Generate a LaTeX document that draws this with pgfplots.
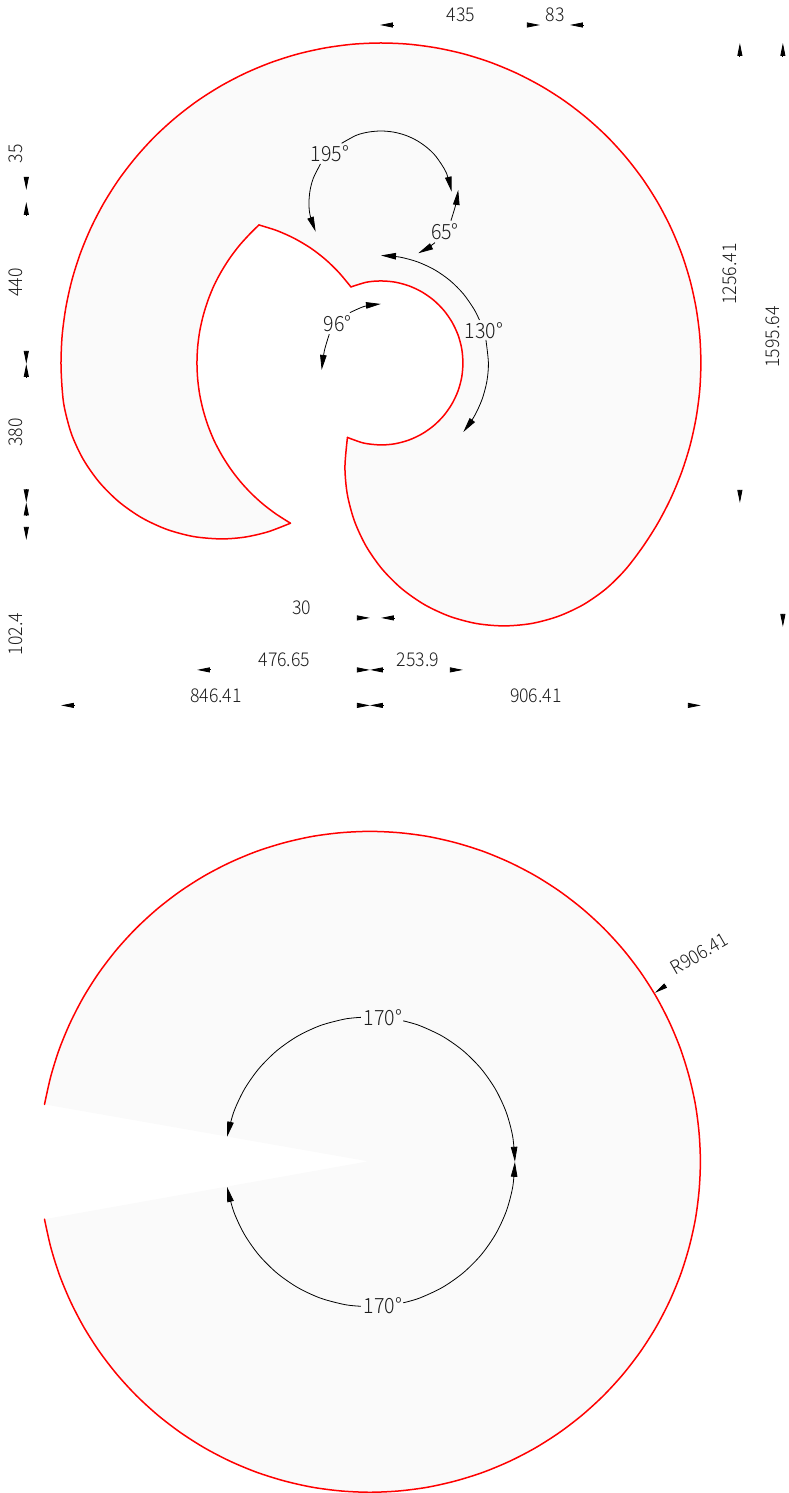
\documentclass[border=0pt]{standalone}
\usepackage{fontspec}
\setmainfont[FakeStretch=0.93]{Noto Sans CJK JP Light}
\usepackage{pgfplots}
\usepackage{pgfplotstable}
\pgfplotsset{compat=1.18}
\usetikzlibrary{arrows.meta}
\definecolor{part}{HTML}{FAFAFA}
\definecolor{ink}{HTML}{1C1C1C}
\tikzset{
  dim/.style={black, line width=0.8pt, -{Triangle[length=13pt,width=5pt]}},
  ang/.style={black, line width=0.8pt, smooth, -{Triangle[length=15pt,width=6.5pt]}},
  edge/.style={red, line width=1.5pt, smooth, line cap=round},
  dimlabel/.style={text=ink, font=\fontsize{19}{22}\selectfont, inner sep=0pt},
  anglabel/.style={text=ink, font=\fontsize{21}{24}\selectfont, inner sep=0pt},
}
% lower part: outer arc, last row is the notch vertex
\pgfplotstableread{
x y
44.5 1104.6
50.8 1076.5
59.4 1049
70.5 1022.3
83.8 996.7
99.3 972.4
116.8 949.6
136.3 928.3
157.6 908.8
180.4 891.3
204.7 875.8
230.3 862.5
257 851.4
284.5 842.8
312.6 836.5
341.2 832.8
370 831.5
398.8 832.8
427.4 836.5
455.5 842.8
483 851.4
509.7 862.5
535.3 875.8
559.6 891.3
582.4 908.8
603.7 928.3
623.2 949.6
640.7 972.4
656.2 996.7
669.5 1022.3
680.6 1049
689.2 1076.5
695.5 1104.6
699.2 1133.2
700.5 1162
699.2 1190.8
695.5 1219.4
689.2 1247.5
680.6 1275
669.5 1301.7
656.2 1327.3
640.7 1351.6
623.2 1374.4
603.7 1395.7
582.4 1415.2
559.6 1432.7
535.3 1448.2
509.7 1461.5
483 1472.6
455.5 1481.2
427.4 1487.5
398.8 1491.2
370 1492.5
341.2 1491.2
312.6 1487.5
284.5 1481.2
257 1472.6
230.3 1461.5
204.7 1448.2
180.4 1432.7
157.6 1415.2
136.3 1395.7
116.8 1374.4
99.3 1351.6
83.8 1327.3
70.5 1301.7
59.4 1275
50.8 1247.5
44.5 1219.4
368 1161.5
}\lowerpart
\begin{document}
\begin{tikzpicture}
\begin{axis}[
  scale only axis, width=789pt, height=1493pt,
  xmin=0, xmax=789, ymin=0, ymax=1493, y dir=reverse,
  hide axis, clip=false, no markers,
]
% keeps the page as large as the axis
\addplot[draw=none] coordinates {(0,0) (789,1493)};
% upper part: fill
\addplot[fill=part, draw=none] coordinates {
(62.1,388.1) (61,363) (62.2,335.1) (65.9,307.4) (71.9,280.2) (80.3,253.6) (91,227.8) (103.9,203)
(118.9,179.4) (135.9,157.3) (154.7,136.7) (175.3,117.9) (197.4,100.9) (221,85.9) (245.8,73)
(271.6,62.3) (298.2,53.9) (325.4,47.9) (353.1,44.2) (381,43) (408.9,44.2) (436.6,47.9) (463.8,53.9)
(490.4,62.3) (516.2,73) (541,85.9) (564.6,100.9) (586.7,117.9) (607.3,136.7) (626.1,157.3)
(643.1,179.4) (658.1,203) (671,227.8) (681.7,253.6) (690.1,280.2) (696.1,307.4) (699.8,335.1)
(701,363) (699.8,390.9) (696.1,418.6) (690.1,445.8) (681.7,472.4) (671,498.2) (658.1,523)
(643.1,546.6) (625.5,569.7)
(606.2,588.8) (583.5,604.7) (558.4,616.4) (531.6,623.6) (504,626) (476.4,623.6) (449.6,616.4)
(424.5,604.7) (401.8,588.8) (382.2,569.2) (366.3,546.5) (354.6,521.4) (347.4,494.6) (345,467)
(347.5,437.5)
(364,443.2) (381,445) (395.2,443.8) (409,440.1) (422,434) (433.7,425.8) (443.8,415.7)
(452,404) (458.1,391) (461.8,377.2) (463,363) (461.8,348.8) (458.1,335) (452,322) (443.8,310.3)
(433.7,300.2) (422,292) (409,285.9) (395.2,282.2) (381,281) (366.8,282.2) (351,287)
(338.8,272.4) (325.4,259.4) (310.4,247.9) (294.1,238.3) (277.1,230.7) (259,225)
(250.9,232.9) (240.1,244.7) (230.3,257.5) (221.7,271) (214.2,285.2) (208.1,300.1) (203.3,315.4)
(199.8,331) (197.7,347) (197,363) (197.7,379) (199.8,395) (203.3,410.6) (208.1,425.9) (214.2,440.8)
(221.7,455) (230.3,468.5) (240.1,481.3) (250.9,493.1) (262.7,503.9) (275.5,513.7) (290.5,523.3)
(268,531.9) (244.8,537.2) (221,539) (193.4,536.6) (166.6,529.4) (141.5,517.7) (118.8,501.8)
(99.2,482.2) (83.3,459.5) (71.6,434.4) (64.4,407.6) (62.1,388.1)
};
% upper part: edges, one smooth run per tangent chain
\addplot[edge] coordinates {
(290.5,523.3) (268,531.9) (244.8,537.2) (221,539) (193.4,536.6) (166.6,529.4) (141.5,517.7) (118.8,501.8)
(99.2,482.2) (83.3,459.5) (71.6,434.4) (64.4,407.6) (62.1,388.1) (61,363) (62.2,335.1) (65.9,307.4)
(71.9,280.2) (80.3,253.6) (91,227.8) (103.9,203)
(118.9,179.4) (135.9,157.3) (154.7,136.7) (175.3,117.9) (197.4,100.9) (221,85.9) (245.8,73)
(271.6,62.3) (298.2,53.9) (325.4,47.9) (353.1,44.2) (381,43) (408.9,44.2) (436.6,47.9) (463.8,53.9)
(490.4,62.3) (516.2,73) (541,85.9) (564.6,100.9) (586.7,117.9) (607.3,136.7) (626.1,157.3)
(643.1,179.4) (658.1,203) (671,227.8) (681.7,253.6) (690.1,280.2) (696.1,307.4) (699.8,335.1)
(701,363) (699.8,390.9) (696.1,418.6) (690.1,445.8) (681.7,472.4) (671,498.2) (658.1,523)
(643.1,546.6) (625.5,569.7)
(606.2,588.8) (583.5,604.7) (558.4,616.4) (531.6,623.6) (504,626) (476.4,623.6) (449.6,616.4)
(424.5,604.7) (401.8,588.8) (382.2,569.2) (366.3,546.5) (354.6,521.4) (347.4,494.6) (345,467)
(347.5,437.5)
};
\addplot[edge] coordinates {
(347.5,437.5) (364,443.2) (381,445) (395.2,443.8) (409,440.1) (422,434) (433.7,425.8) (443.8,415.7)
(452,404) (458.1,391) (461.8,377.2) (463,363) (461.8,348.8) (458.1,335) (452,322) (443.8,310.3)
(433.7,300.2) (422,292) (409,285.9) (395.2,282.2) (381,281) (366.8,282.2) (351,287)
};
\addplot[edge] coordinates {(351,287) (338.8,272.4) (325.4,259.4) (310.4,247.9) (294.1,238.3) (277.1,230.7) (259,225)};
\addplot[edge] coordinates {
(259,225) (250.9,232.9) (240.1,244.7) (230.3,257.5) (221.7,271) (214.2,285.2) (208.1,300.1) (203.3,315.4)
(199.8,331) (197.7,347) (197,363) (197.7,379) (199.8,395) (203.3,410.6) (208.1,425.9) (214.2,440.8)
(221.7,455) (230.3,468.5) (240.1,481.3) (250.9,493.1) (262.7,503.9) (275.5,513.7) (290.5,523.3)
};
% lower part
\addplot[fill=part, draw=none] table[x=x,y=y] {\lowerpart};
\addplot[edge, skip coords between index={69}{70}] table[x=x,y=y] {\lowerpart};
% angle arcs, upper part
\addplot[ang] coordinates {(341.7,143.3) (356.4,135.3) (368.5,132.1) (381,131) (393.5,132.1) (405.6,135.3) (417,140.6) (427.3,147.8) (436.2,156.7) (446.3,172.6) (451.7,191.7)};
\addplot[ang] coordinates {(320.5,164) (313.3,178.4) (310.1,190.5) (309,203) (310.1,215) (315.7,231.7)};
\addplot[ang] coordinates {(451,220.7) (456,204) (458.3,190)};
\addplot[ang] coordinates {(435,242.7) (427.5,248.2) (418.3,253.3)};
\addplot[ang] coordinates {(479.5,320) (474.1,309.2) (463.4,293.9) (450.1,280.6) (434.8,269.9) (417.8,262) (399.7,257.1) (381,255.5)};
\addplot[ang] coordinates {(486,340) (488.5,363) (486.9,381.7) (482,399.8) (474.1,416.8) (463.4,432.1)};
\addplot[ang] coordinates {(350,312.7) (364.5,306.4) (381,304)};
\addplot[ang] coordinates {(329.3,334.3) (324.4,351) (321.7,370)};
% angle arcs, lower part
\addplot[ang] coordinates {(361,1017.5) (344.8,1019.2) (320.4,1025.7) (297.5,1036.4) (276.8,1050.9) (258.9,1068.8) (244.4,1089.5) (233.7,1112.4) (227.2,1136.8)};
\addplot[ang] coordinates {(403.3,1021) (419.6,1025.7) (442.5,1036.4) (463.2,1050.9) (481.1,1068.8) (495.6,1089.5) (506.3,1112.4) (512.8,1136.8) (515,1162)};
\addplot[ang] coordinates {(361,1306.5) (344.8,1304.8) (320.4,1298.3) (297.5,1287.6) (276.8,1273.1) (258.9,1255.2) (244.4,1234.5) (233.7,1211.6) (227.2,1187.2)};
\addplot[ang] coordinates {(403.3,1303) (419.6,1298.3) (442.5,1287.6) (463.2,1273.1) (481.1,1255.2) (495.6,1234.5) (506.3,1211.6) (512.8,1187.2) (515,1162)};
% dimension arrows: top row
\addplot[dim] coordinates {(393,25) (380,25)};
\addplot[dim] coordinates {(527,25) (540,25)};
\addplot[dim] coordinates {(583,25) (570,25)};
% left column
\addplot[dim] coordinates {(26.3,177) (26.3,190)};
\addplot[dim] coordinates {(26.3,215) (26.3,202)};
\addplot[dim] coordinates {(26.3,351) (26.3,364)};
\addplot[dim] coordinates {(26.3,377) (26.3,364)};
\addplot[dim] coordinates {(26.3,489.5) (26.3,502.5)};
\addplot[dim] coordinates {(26.3,515.5) (26.3,502.5)};
\addplot[dim] coordinates {(26.3,527) (26.3,540)};
% bottom rows
\addplot[dim] coordinates {(357,618) (370,618)};
\addplot[dim] coordinates {(394,618) (381,618)};
\addplot[dim] coordinates {(210,670) (197,670)};
\addplot[dim] coordinates {(357,670) (370,670)};
\addplot[dim] coordinates {(383,670) (370,670)};
\addplot[dim] coordinates {(450,670) (463,670)};
\addplot[dim] coordinates {(74,705.5) (61,705.5)};
\addplot[dim] coordinates {(357,705.5) (370,705.5)};
\addplot[dim] coordinates {(383,705.5) (370,705.5)};
\addplot[dim] coordinates {(688,705.5) (701,705.5)};
% right columns
\addplot[dim] coordinates {(740,56) (740,43)};
\addplot[dim] coordinates {(740,490) (740,503)};
\addplot[dim] coordinates {(783,56) (783,43)};
\addplot[dim] coordinates {(783,614) (783,627)};
% radius arrow
\addplot[dim] coordinates {(666,985.5) (655,993)};
% dimension texts
\node[dimlabel] at (axis cs:461,14.5) {435};
\node[dimlabel] at (axis cs:555.5,14.5) {83};
\node[dimlabel, rotate=90] at (axis cs:15.5,154) {35};
\node[dimlabel, rotate=90] at (axis cs:15.5,282.5) {440};
\node[dimlabel, rotate=90] at (axis cs:15.5,432.5) {380};
\node[dimlabel, rotate=90] at (axis cs:15.5,634) {102.4};
\node[dimlabel] at (axis cs:302,607.5) {30};
\node[dimlabel] at (axis cs:284.5,659.5) {476.65};
\node[dimlabel] at (axis cs:418,659.5) {253.9};
\node[dimlabel] at (axis cs:216,695.5) {846.41};
\node[dimlabel] at (axis cs:536,695.5) {906.41};
\node[dimlabel, rotate=90] at (axis cs:729.5,274) {1256.41};
\node[dimlabel, rotate=90] at (axis cs:772.5,337) {1595.64};
\node[dimlabel, rotate=30] at (axis cs:699.5,954) {R906.41};
% angle texts
\node[anglabel] at (axis cs:330,154) {195°};
\node[anglabel] at (axis cs:445,232) {65°};
\node[anglabel] at (axis cs:484,331) {130°};
\node[anglabel] at (axis cs:337.5,324) {96°};
\node[anglabel] at (axis cs:383,1018) {170°};
\node[anglabel] at (axis cs:383,1306) {170°};
\end{axis}
\end{tikzpicture}
\end{document}
